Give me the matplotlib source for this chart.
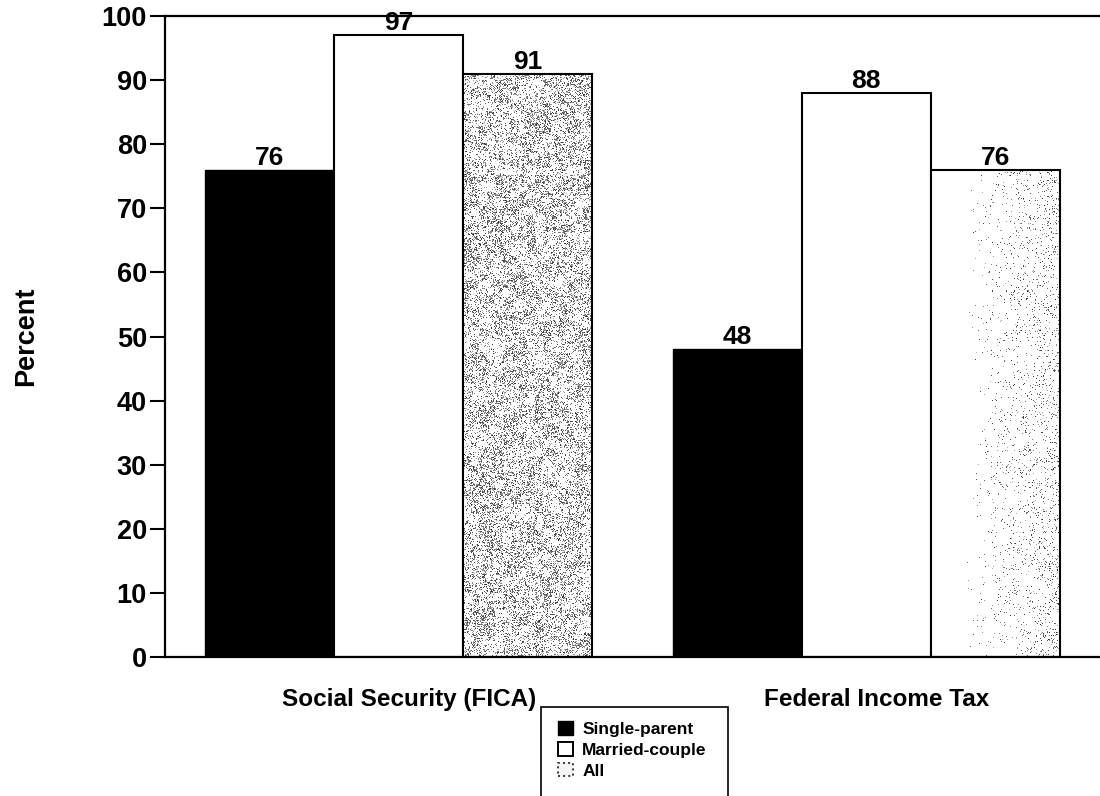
import numpy as np
import matplotlib.pyplot as plt
from matplotlib.patches import Rectangle
from matplotlib.transforms import ScaledTranslation

# Share of families paying each tax, by family type
categories = ['Social Security (FICA)', 'Federal Income Tax']
series_names = ['Single-parent', 'Married-couple', 'All']
single_parent = [76, 48]
married_couple = [97, 88]
all_families = [91, 76]
y_ticks = [0, 10, 20, 30, 40, 50, 60, 70, 80, 90, 100]

plt.rcParams['font.family'] = ['Liberation Sans', 'DejaVu Sans']
plt.rcParams['font.weight'] = 'bold'

fig = plt.figure(figsize=(11, 7.96), dpi=100)
ax = fig.add_axes([0.15, 0.1746, 0.85, 0.8053])

x = np.arange(len(categories))
width = 0.276

b1 = ax.bar(x - width, single_parent, width, color='black', edgecolor='black', linewidth=1)
b2 = ax.bar(x, married_couple, width, color='white', edgecolor='black', linewidth=1.5)
b3 = ax.bar(x + width, all_families, width, color='white', edgecolor='black', linewidth=1.5,
            zorder=3)

# grainy stipple inside the "All" bars (darker in the first group)
rng = np.random.default_rng(7)
for bar, dens in zip(b3, [0.36, 0.08]):
    x0, y0 = bar.get_x(), bar.get_y()
    w, h = bar.get_width(), bar.get_height()
    ny, nx = int(h * 6.4), 130
    noise = rng.random((ny, nx))
    blobs = rng.random((ny // 8 + 1, nx // 8 + 1))
    blobs = np.kron(blobs, np.ones((8, 8)))[:ny, :nx]
    if dens < 0.2:
        ramp = np.clip(np.linspace(-0.6, 1.6, nx), 0, None)[None, :]
        prob = dens * ramp * (0.3 + blobs)
    else:
        prob = dens * (0.3 + blobs)
    tex = np.where(noise < prob, 0.2 + 0.5 * rng.random((ny, nx)), 1.0)
    im = ax.imshow(tex, cmap='gray', vmin=0, vmax=1, extent=(x0, x0 + w, y0, y0 + h),
                   origin='lower', aspect='auto', interpolation='nearest', zorder=2)
    im.set_clip_path(bar)
    bar.set_facecolor('none')

for bars in (b1, b2, b3):
    for bar in bars:
        ax.annotate(f'{bar.get_height():.0f}',
                    (bar.get_x() + bar.get_width() / 2, bar.get_height()),
                    xytext=(0, 0), textcoords='offset points', ha='center', va='bottom',
                    fontsize=19, fontweight='bold', zorder=4)

ax.set_xlim(-0.5, 1.5)
ax.set_ylim(0, 100)
ax.set_yticks(y_ticks)
ax.tick_params(axis='y', direction='out', length=11, width=1.5, labelsize=19.5, pad=2)
ax.tick_params(axis='x', length=0, labelsize=17.5, pad=22)
ax.set_xticks(x)
ax.set_xticklabels(categories, fontweight='bold')
shift = ScaledTranslation(0.1, 0, fig.dpi_scale_trans)
for lab in ax.get_xticklabels():
    lab.set_transform(lab.get_transform() + shift)
for lab in ax.get_yticklabels():
    lab.set_fontweight('bold')

ax.set_ylabel('Percent', fontsize=19.5, fontweight='bold')
ax.yaxis.set_label_coords(-0.135, 0.5)

for side in ('left', 'top', 'bottom'):
    ax.spines[side].set_linewidth(1.6)
ax.spines['right'].set_visible(False)

# legend box, open at the bottom of the figure
fig.patches.append(Rectangle((541 / 1100, -0.02), (728 - 541) / 1100, (796 - 707) / 796 + 0.02,
                             transform=fig.transFigure, facecolor='white', edgecolor='black',
                             linewidth=1.2))
handles = [Rectangle((0, 0), 1, 1, facecolor='black', edgecolor='black'),
           Rectangle((0, 0), 1, 1, facecolor='white', edgecolor='black', linewidth=1.4),
           Rectangle((0, 0), 1, 1, facecolor='#f4f4f4', edgecolor='#333333', linewidth=1.4,
                     linestyle=':')]
fig.legend(handles, series_names, loc='upper left', bbox_to_anchor=(558 / 1100, 1 - 721 / 796),
           frameon=False, handlelength=0.85, handleheight=0.85, handletextpad=0.55,
           labelspacing=0.28, borderaxespad=0, borderpad=0,
           prop={'size': 12.5, 'weight': 'bold'})

fig.savefig('out.png', dpi=100, facecolor='white')
